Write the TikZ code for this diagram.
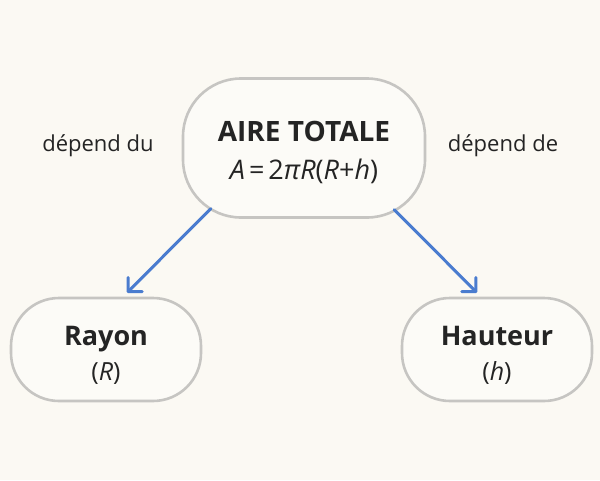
\documentclass[tikz,border=0pt]{standalone}
\usepackage{fontspec}
\setmainfont{Open Sans}
\usetikzlibrary{arrows.meta}
\definecolor{bg}{HTML}{FBF9F3}
\definecolor{nodefill}{HTML}{FCFBF7}
\definecolor{bordergray}{HTML}{C6C5C2}
\definecolor{arrowblue}{HTML}{4A7CCF}
\definecolor{txt}{HTML}{242424}
\begin{document}
\begin{tikzpicture}[x=1pt,y=-1pt,
  box/.style={draw=bordergray, line width=2.6pt, fill=nodefill, align=center, text=txt, inner sep=0pt},
  bigbox/.style={box, minimum width=242pt, minimum height=139pt, rounded corners=58pt, font=\fontsize{28}{38}\selectfont},
  smallbox/.style={box, minimum width=190pt, minimum height=103pt, rounded corners=48pt, font=\fontsize{27}{35}\selectfont},
  lbl/.style={text=txt, font=\fontsize{22}{26}\selectfont, inner sep=0pt},
  arr/.style={draw=arrowblue, line width=3pt, line cap=round, -{Straight Barb[length=10pt,width=20pt,line cap=round,line join=round]}}
]
\useasboundingbox[fill=bg] (0,0) rectangle (600,480);
\node[bigbox] (top) at (304,148) {\rule{0pt}{30pt}{\bfseries AIRE TOTALE}\\{\fontsize{27}{38}\selectfont\itshape A\upshape\hspace{4pt}=\hspace{4pt}2\itshape πR\upshape(\itshape R\upshape+\itshape h\upshape)}};
\node[smallbox] (rayon) at (106,349.5) {\rule{0pt}{30pt}{\bfseries Rayon}\\{\fontsize{25}{35}\selectfont (\itshape R\upshape)}};
\node[smallbox] (hauteur) at (497,349.5) {\rule{0pt}{30pt}{\bfseries Hauteur}\\{\fontsize{25}{35}\selectfont (\itshape h\upshape)}};
\node[lbl] (l1) at (98,146) {dépend du};
\node[lbl] (l2) at (503,146) {dépend de};
\draw[arr] ([shift={(29,-10)}]top.south west) -- ([shift={(21,-4)}]rayon.north);
\draw[arr] ([shift={(-32,-9)}]top.south east) -- ([shift={(-20,-4)}]hauteur.north);
\end{tikzpicture}
\end{document}
